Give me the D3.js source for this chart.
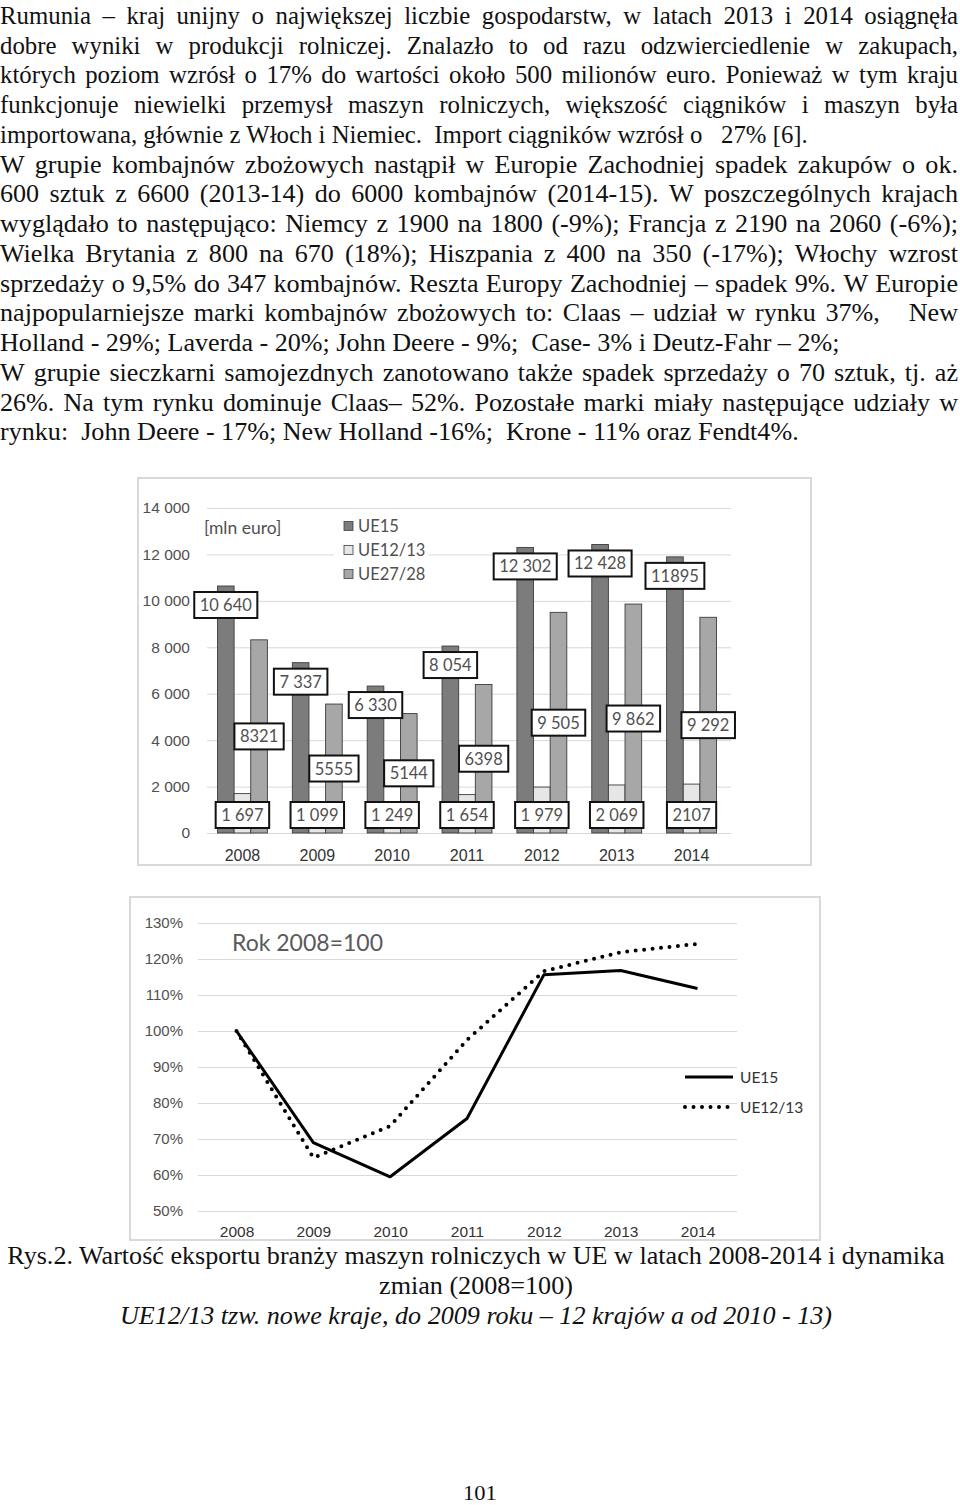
<!DOCTYPE html>
<html>
<head>
<meta charset="utf-8">
<script src="https://cdn.jsdelivr.net/npm/d3@7"></script>
<style>
  html, body { margin: 0; padding: 0; background: #fff; }
  svg { display: block; }
</style>
</head>
<body>
<svg id="page" width="960" height="1505"></svg>
<script>
// ---- data ----
const years = ["2008", "2009", "2010", "2011", "2012", "2013", "2014"];
const ue15 = [10640, 7337, 6330, 8054, 12302, 12428, 11895];
const ue1213 = [1697, 1099, 1249, 1654, 1979, 2069, 2107];
const ue2728 = [8321, 5555, 5144, 6398, 9505, 9862, 9292];
const ue15Labels = ["10 640", "7 337", "6 330", "8 054", "12 302", "12 428", "11895"];
const ue1213Labels = ["1 697", "1 099", "1 249", "1 654", "1 979", "2 069", "2107"];
const ue2728Labels = ["8321", "5555", "5144", "6398", "9 505", "9 862", "9 292"];
const barTicks = [0, 2000, 4000, 6000, 8000, 10000, 12000, 14000];

// dynamics, 2008 = 100
const dynUe15 = [100, 69.0, 59.5, 75.7, 115.6, 116.8, 111.8];
const dynUe1213 = [100, 64.8, 73.6, 97.5, 116.6, 121.9, 124.2];
const dynTicks = [50, 60, 70, 80, 90, 100, 110, 120, 130];

// ---- page text: [line, justified?, paragraph] ----
const bodyLines = [
  ["Rumunia – kraj unijny o największej liczbie gospodarstw, w latach 2013 i 2014 osiągnęła", true, 1],
  ["dobre wyniki w produkcji rolniczej. Znalazło to od razu odzwierciedlenie w zakupach,", true, 1],
  ["których poziom wzrósł o 17% do wartości około 500 milionów euro. Ponieważ w tym kraju", true, 1],
  ["funkcjonuje niewielki przemysł maszyn rolniczych, większość ciągników i maszyn była", true, 1],
  ["importowana, głównie z Włoch i Niemiec.  Import ciągników wzrósł o   27% [6].", false, 1],
  ["W grupie kombajnów zbożowych nastąpił w Europie Zachodniej spadek zakupów o ok.", true, 2],
  ["600 sztuk z 6600 (2013-14) do 6000 kombajnów (2014-15). W poszczególnych krajach", true, 2],
  ["wyglądało to następująco: Niemcy z 1900 na 1800 (-9%); Francja z 2190 na 2060 (-6%);", true, 2],
  ["Wielka Brytania z 800 na 670 (18%); Hiszpania z 400 na 350 (-17%); Włochy wzrost", true, 2],
  ["sprzedaży o 9,5% do 347 kombajnów. Reszta Europy Zachodniej – spadek 9%. W Europie", true, 2],
  ["najpopularniejsze marki kombajnów zbożowych to: Claas – udział w rynku 37%,   New", true, 2],
  ["Holland - 29%; Laverda - 20%; John Deere - 9%;  Case- 3% i Deutz-Fahr – 2%;", false, 2],
  ["W grupie sieczkarni samojezdnych zanotowano także spadek sprzedaży o 70 sztuk, tj. aż", true, 2],
  ["26%. Na tym rynku dominuje Claas– 52%. Pozostałe marki miały następujące udziały w", true, 2],
  ["rynku:  John Deere - 17%; New Holland -16%;  Krone - 11% oraz Fendt4%.", false, 2]
];
const caption1 = "Rys.2. Wartość eksportu branży maszyn rolniczych w UE w latach 2008-2014 i dynamika";
const caption2 = "zmian (2008=100)";
const caption3 = "UE12/13 tzw. nowe kraje, do 2009 roku – 12 krajów a od 2010 - 13)";

const svg = d3.select("#page");
const serif = "'Liberation Serif', 'Times New Roman', serif";
const sans = "Lato, 'Open Sans', sans-serif";
const FS = 25.5;
const ink = "#111";

// the scan is a little squeezed sideways: fit the caption's first line to its width
const probe = svg.append("text").style("font-family", serif).style("font-size", FS + "px").text(caption1);
const sx = 938 / probe.node().getComputedTextLength();
probe.remove();

// first paragraph is set a bit tighter than the rest
const paraScale = { 1: 0.95, 2: 1 };

const textG = svg.append("g")
  .style("font-family", serif)
  .style("font-size", FS + "px")
  .attr("fill", ink);

const paraG = {
  1: textG.append("g").attr("transform", `scale(${sx * paraScale[1]},1)`),
  2: textG.append("g").attr("transform", `scale(${sx * paraScale[2]},1)`)
};

function measure(str) {
  const t = paraG[2].append("text").attr("xml:space", "preserve").style("white-space", "pre").text(str);
  const w = t.node().getComputedTextLength();
  t.remove();
  return w;
}
const spaceW = measure("x x") - measure("xx");

bodyLines.forEach(([line, justify, p], i) => {
  const y = 24 + i * 29.75;
  const g = paraG[p];
  const rightEdge = 958 / (sx * paraScale[p]);
  if (!justify) {
    g.append("text")
      .attr("xml:space", "preserve")
      .style("white-space", "pre")
      .attr("x", 0)
      .attr("y", y)
      .text(line);
    return;
  }
  const tokens = line.split(" ");
  const widths = tokens.map(t => (t ? measure(t) : 0));
  const gaps = tokens.length - 1;
  const extra = (rightEdge - d3.sum(widths) - gaps * spaceW) / gaps;
  let x = 0;
  tokens.forEach((tok, j) => {
    if (tok) g.append("text").attr("x", x).attr("y", y).text(tok);
    x += widths[j] + spaceW + extra;
  });
});

const capG = paraG[2];
const cx = 476 / sx;
capG.append("text").attr("x", cx).attr("y", 1264).attr("text-anchor", "middle").text(caption1);
capG.append("text").attr("x", cx).attr("y", 1294).attr("text-anchor", "middle").text(caption2);
capG.append("text").attr("x", cx).attr("y", 1324).attr("text-anchor", "middle")
  .style("font-style", "italic").text(caption3);
capG.append("text").attr("x", 480 / sx).attr("y", 1500).attr("text-anchor", "middle")
  .style("font-size", "22px").text("101");

// ================= bar chart =================
const fmtNum = d3.formatLocale({ decimal: ",", thousands: " ", grouping: [3], currency: ["", ""] }).format(",d");
const grid = "#d9d9d9";
const tickInk = "#505050";

const bar = svg.append("g").style("font-family", sans);

bar.append("rect")
  .attr("x", 138).attr("y", 478).attr("width", 673).attr("height", 387)
  .attr("fill", "#fff").attr("stroke", grid).attr("stroke-width", 2);

const yB = d3.scaleLinear().domain([0, 14000]).range([833, 508]);
const xB = d3.scaleBand().domain(years).range([205, 729]).paddingInner(1 / 3).paddingOuter(1 / 6);
const series = [
  { key: "UE15", values: ue15, labels: ue15Labels, fill: "#7c7c7c", pos: "end" },
  { key: "UE12/13", values: ue1213, labels: ue1213Labels, fill: "#e6e6e6", pos: "base" },
  { key: "UE27/28", values: ue2728, labels: ue2728Labels, fill: "#a7a7a7", pos: "center" }
];
const xSub = d3.scaleBand().domain(series.map(s => s.key)).range([0, xB.bandwidth()]);

const yAxisB = bar.append("g")
  .attr("transform", "translate(207,0)")
  .call(d3.axisLeft(yB).tickValues(barTicks).tickSize(-524).tickPadding(17).tickFormat(fmtNum));
yAxisB.select(".domain").remove();
yAxisB.selectAll("line").attr("stroke", grid);
yAxisB.selectAll("text").attr("fill", tickInk).style("font-size", "15.5px");

const xAxisB = bar.append("g")
  .attr("transform", "translate(0,833)")
  .call(d3.axisBottom(xB).tickSize(0).tickPadding(17));
xAxisB.select(".domain").remove();
xAxisB.selectAll("text").attr("fill", "#333").style("font-size", "16px");

bar.append("text")
  .attr("x", 204).attr("y", 534)
  .attr("fill", tickInk).style("font-size", "17.5px")
  .text("[mln euro]");

// legend
const legB = bar.append("g");
legB.append("rect").attr("x", 334).attr("y", 512).attr("width", 94).attr("height", 74).attr("fill", "#fff");
series.forEach((s, i) => {
  const ly = 526 + i * 24;
  legB.append("rect")
    .attr("x", 344).attr("y", ly - 4.5).attr("width", 9).attr("height", 9)
    .attr("fill", s.fill).attr("stroke", "#404040").attr("stroke-width", 0.8);
  legB.append("text")
    .attr("x", 358).attr("y", ly + 6)
    .attr("fill", tickInk).style("font-size", "16.5px")
    .text(s.key);
});

// bars
series.forEach(s => {
  bar.append("g").selectAll("rect")
    .data(s.values)
    .join("rect")
    .attr("x", (d, i) => xB(years[i]) + xSub(s.key))
    .attr("y", d => yB(d))
    .attr("width", xSub.bandwidth())
    .attr("height", d => yB(0) - yB(d))
    .attr("fill", s.fill)
    .attr("stroke", "#3c3c3c")
    .attr("stroke-width", 0.9);
});

// data labels in boxes
series.forEach(s => {
  s.values.forEach((v, i) => {
    const cxl = xB(years[i]) + xSub(s.key) + xSub.bandwidth() / 2;
    let cy;
    if (s.pos === "end") cy = yB(v) + 19;
    else if (s.pos === "center") cy = (yB(v) + yB(0)) / 2;
    else cy = yB(0) - 18;
    const g = bar.append("g");
    const box = g.append("rect");
    const t = g.append("text")
      .attr("x", cxl).attr("y", cy + 6)
      .attr("text-anchor", "middle")
      .attr("fill", tickInk)
      .style("font-size", "16.5px")
      .text(s.labels[i]);
    const w = t.node().getComputedTextLength() + 11;
    box.attr("x", cxl - w / 2).attr("y", cy - 13).attr("width", w).attr("height", 26)
      .attr("fill", "#fff").attr("stroke", "#111").attr("stroke-width", 2);
  });
});

// ================= line chart =================
const lc = svg.append("g").style("font-family", sans);

lc.append("rect")
  .attr("x", 130).attr("y", 897).attr("width", 690).attr("height", 343)
  .attr("fill", "#fff").attr("stroke", grid).attr("stroke-width", 2);

const yL = d3.scaleLinear().domain([50, 130]).range([1211, 923]);
const xL = d3.scalePoint().domain(years).range([236.5, 697.5]);

const yAxisL = lc.append("g")
  .attr("transform", "translate(198,0)")
  .call(d3.axisLeft(yL).tickValues(dynTicks).tickSize(-539).tickPadding(15).tickFormat(d => d + "%"));
yAxisL.select(".domain").remove();
yAxisL.selectAll("line").attr("stroke", grid);
yAxisL.selectAll("text").attr("fill", tickInk).style("font-size", "15px");

const xAxisL = lc.append("g")
  .attr("transform", "translate(0,1211)")
  .call(d3.axisBottom(xL).tickSize(0).tickPadding(15));
xAxisL.select(".domain").remove();
xAxisL.selectAll("text").attr("fill", "#333").style("font-size", "15.5px");

lc.append("text")
  .attr("x", 232).attr("y", 951)
  .attr("fill", "#5a5a5a").style("font-size", "23px")
  .text("Rok 2008=100");

const line = d3.line().x((d, i) => xL(years[i])).y(d => yL(d));

lc.append("path")
  .attr("d", line(dynUe1213))
  .attr("fill", "none").attr("stroke", "#000")
  .attr("stroke-width", 4).attr("stroke-linecap", "round")
  .attr("stroke-dasharray", "0 8.5");

lc.append("path")
  .attr("d", line(dynUe15))
  .attr("fill", "none").attr("stroke", "#000")
  .attr("stroke-width", 3).attr("stroke-linejoin", "round");

const legL = [
  { key: "UE15", y: 1077, dash: null, w: 3 },
  { key: "UE12/13", y: 1107, dash: "0 8.5", w: 4 }
];
legL.forEach(l => {
  lc.append("line")
    .attr("x1", 685).attr("x2", 733).attr("y1", l.y).attr("y2", l.y)
    .attr("stroke", "#000").attr("stroke-width", l.w)
    .attr("stroke-linecap", l.dash ? "round" : "butt")
    .attr("stroke-dasharray", l.dash);
  lc.append("text")
    .attr("x", 740).attr("y", l.y + 5.5)
    .attr("fill", "#333").style("font-size", "15.5px")
    .text(l.key);
});
</script>
</body>
</html>
